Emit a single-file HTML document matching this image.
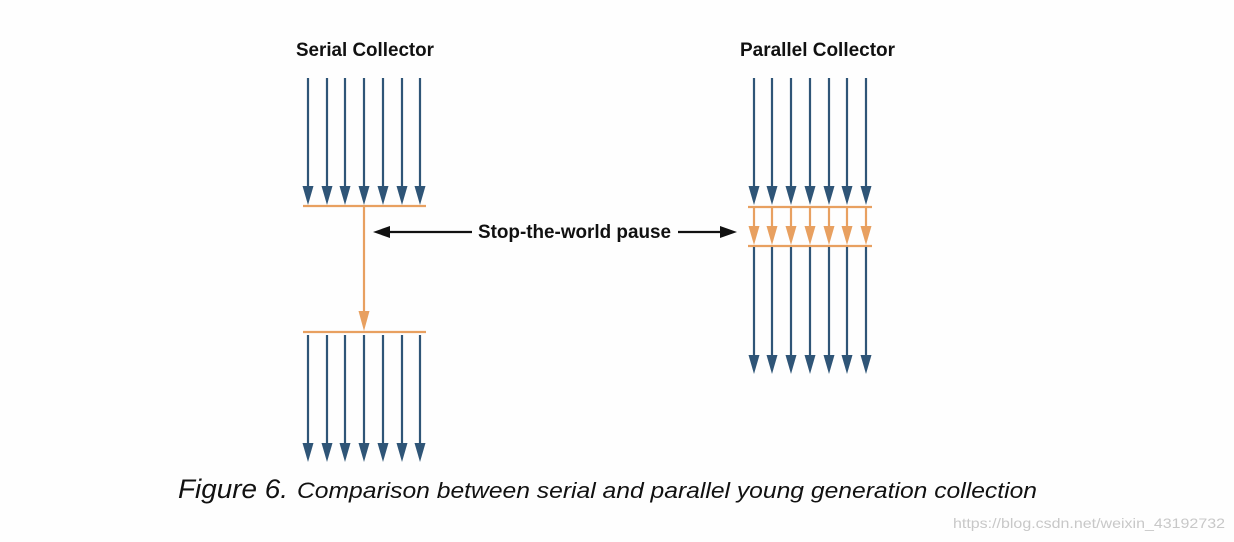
<!DOCTYPE html>
<html><head><style>body{margin:0;background:#fff}svg{display:block}</style></head>
<body>
<svg width="1234" height="542" viewBox="0 0 1234 542" xmlns="http://www.w3.org/2000/svg">
<rect width="1234" height="542" fill="#fefefe"/>
<defs>
<g id="ba"><line x1="0" y1="0" x2="0" y2="112" stroke="#2f5577" stroke-width="2.2"/><polygon points="-5.5,108 5.5,108 0,127" fill="#2f5577"/></g>
<g id="oa"><line x1="0" y1="0" x2="0" y2="22" stroke="#e8a060" stroke-width="2.2"/><polygon points="-5.5,18 5.5,18 0,37" fill="#e8a060"/></g>
</defs>
<g font-family="Liberation Sans, sans-serif" font-weight="bold" fill="#111">
<text x="296" y="56" font-size="19" textLength="138" lengthAdjust="spacingAndGlyphs">Serial Collector</text>
<text x="740" y="56" font-size="19" textLength="155" lengthAdjust="spacingAndGlyphs">Parallel Collector</text>
<text x="478" y="238" font-size="19" textLength="193" lengthAdjust="spacingAndGlyphs">Stop-the-world pause</text>
</g>
<!-- serial -->
<use href="#ba" x="308" y="78"/><use href="#ba" x="327" y="78"/><use href="#ba" x="345" y="78"/><use href="#ba" x="364" y="78"/><use href="#ba" x="383" y="78"/><use href="#ba" x="402" y="78"/><use href="#ba" x="420" y="78"/>
<line x1="303" y1="206" x2="426" y2="206" stroke="#e8a060" stroke-width="2.2"/>
<line x1="364" y1="206" x2="364" y2="315" stroke="#e8a060" stroke-width="2.2"/>
<polygon points="358.5,311 369.5,311 364,331" fill="#e8a060"/>
<line x1="303" y1="332" x2="426" y2="332" stroke="#e8a060" stroke-width="2.2"/>
<use href="#ba" x="308" y="335"/><use href="#ba" x="327" y="335"/><use href="#ba" x="345" y="335"/><use href="#ba" x="364" y="335"/><use href="#ba" x="383" y="335"/><use href="#ba" x="402" y="335"/><use href="#ba" x="420" y="335"/>
<!-- parallel -->
<use href="#ba" x="754" y="78"/><use href="#ba" x="772" y="78"/><use href="#ba" x="791" y="78"/><use href="#ba" x="810" y="78"/><use href="#ba" x="829" y="78"/><use href="#ba" x="847" y="78"/><use href="#ba" x="866" y="78"/>
<line x1="748" y1="207" x2="872" y2="207" stroke="#e8a060" stroke-width="2.2"/>
<use href="#oa" x="754" y="208"/><use href="#oa" x="772" y="208"/><use href="#oa" x="791" y="208"/><use href="#oa" x="810" y="208"/><use href="#oa" x="829" y="208"/><use href="#oa" x="847" y="208"/><use href="#oa" x="866" y="208"/>
<line x1="748" y1="246" x2="872" y2="246" stroke="#e8a060" stroke-width="2.2"/>
<use href="#ba" x="754" y="247"/><use href="#ba" x="772" y="247"/><use href="#ba" x="791" y="247"/><use href="#ba" x="810" y="247"/><use href="#ba" x="829" y="247"/><use href="#ba" x="847" y="247"/><use href="#ba" x="866" y="247"/>
<!-- stop arrows -->
<line x1="388" y1="232" x2="472" y2="232" stroke="#111" stroke-width="2.2"/>
<polygon points="373,232 390,226 390,238" fill="#111"/>
<line x1="678" y1="232" x2="722" y2="232" stroke="#111" stroke-width="2.2"/>
<polygon points="737,232 720,226 720,238" fill="#111"/>
<!-- caption -->
<g font-family="Liberation Sans, sans-serif" font-style="italic" fill="#111">
<text x="178" y="498" font-size="27" textLength="110" lengthAdjust="spacingAndGlyphs">Figure 6.</text>
<text x="297" y="498" font-size="22" textLength="740" lengthAdjust="spacingAndGlyphs">Comparison between serial and parallel young generation collection</text>
</g>
<text x="953" y="528" font-family="Liberation Sans, sans-serif" font-size="14" fill="#c8c8c8" textLength="272" lengthAdjust="spacingAndGlyphs">https://blog.csdn.net/weixin_43192732</text>
</svg>
</body></html>
